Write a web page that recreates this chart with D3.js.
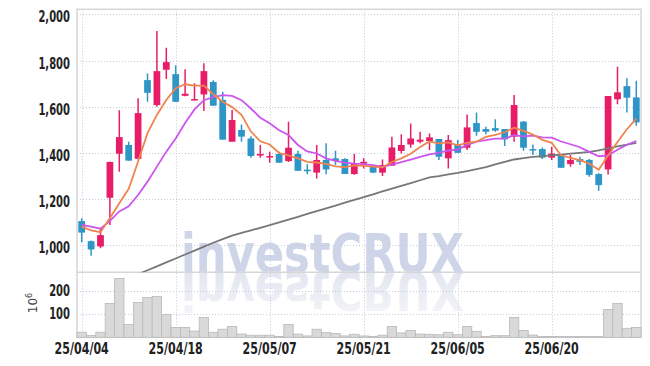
<!DOCTYPE html>
<html>
<head>
<meta charset="utf-8">
<script src="https://cdn.jsdelivr.net/npm/d3@7"></script>
<style>
  html, body { margin: 0; padding: 0; background: #fff; }
  svg { display: block; }
  .tick-label { font-family: "DejaVu Sans Condensed", "DejaVu Sans", sans-serif; font-weight: bold; font-size: 15px; fill: #222; }
</style>
</head>
<body>
<div id="chart"></div>
<script>
const width = 650;
const height = 366;

// trading days
const dates = [
  "25/04/04","25/04/07","25/04/08","25/04/09","25/04/10","25/04/11","25/04/14","25/04/15","25/04/16","25/04/17",
  "25/04/18","25/04/21","25/04/22","25/04/23","25/04/24","25/04/25","25/04/28","25/04/29","25/04/30","25/05/02",
  "25/05/07","25/05/08","25/05/09","25/05/12","25/05/13","25/05/14","25/05/15","25/05/16","25/05/19","25/05/20",
  "25/05/21","25/05/22","25/05/23","25/05/26","25/05/27","25/05/28","25/05/29","25/05/30","25/06/02","25/06/04",
  "25/06/05","25/06/09","25/06/10","25/06/11","25/06/12","25/06/13","25/06/16","25/06/17","25/06/18","25/06/19",
  "25/06/20","25/06/23","25/06/24","25/06/25","25/06/26","25/06/27","25/06/30","25/07/01","25/07/02","25/07/03"
];

const opens = [1104,1017,994,1205,1396,1434,1374,1715,1607,1760, 1741,1647,1630,1653,1707,1629,1448,1499,1462,1388,
  1380,1395,1364,1395,1327,1314,1369,1376,1373,1308, 1353,1340,1314,1344,1408,1436,1448,1451,1460,1376,
  1436,1422,1529,1503,1507,1503,1470,1535,1416,1416, 1379,1393,1351,1373,1369,1308,1328,1632,1689,1640];
const highs = [1116,1020,1075,1362,1584,1448,1636,1744,1928,1855, 1780,1762,1701,1788,1715,1665,1585,1523,1472,1434,
  1405,1405,1535,1409,1350,1434,1441,1409,1376,1395, 1376,1340,1371,1470,1480,1527,1491,1484,1460,1477,
  1455,1566,1575,1513,1545,1503,1650,1538,1436,1423, 1426,1395,1390,1383,1373,1311,1646,1773,1723,1712];
const lows = [1012,954,986,1087,1318,1366,1372,1621,1600,1720, 1621,1645,1628,1581,1604,1457,1448,1448,1379,1379,
  1357,1357,1360,1322,1307,1289,1307,1347,1308,1305, 1332,1311,1299,1344,1397,1422,1441,1412,1369,1332,
  1400,1412,1474,1480,1491,1429,1448,1409,1390,1373, 1369,1335,1340,1347,1296,1236,1306,1610,1575,1517];
const closes = [1054,981,1043,1360,1468,1366,1572,1660,1754,1793, 1621,1656,1633,1754,1604,1457,1542,1470,1386,1395,
  1386,1357,1422,1322,1320,1369,1328,1364,1308,1354, 1361,1314,1347,1423,1434,1462,1457,1467,1383,1455,
  1400,1510,1491,1491,1496,1458,1607,1422,1412,1379, 1397,1335,1369,1361,1304,1260,1646,1662,1639,1532];

// volume, in millions
const volumes = [22,8,22,147,255,56,151,173,177,99, 43,43,27,86,22,35,47,14,9,9,
  9,4,56,14,6,35,20,17,6,13, 6,4,9,47,19,30,14,13,11,22,
  11,47,26,4,7,7,86,30,10,4, 4,3,3,3,3,3,121,147,39,43];

// moving averages
const ma5 = [1080,1064,1056,1117,1181,1244,1362,1485,1564,1629, 1680,1697,1691,1691,1654,1621,1598,1565,1492,1450,
  1436,1399,1389,1376,1361,1358,1352,1341,1338,1345, 1343,1340,1337,1360,1376,1396,1425,1449,1441,1445,
  1432,1443,1448,1469,1478,1489,1509,1495,1479,1456, 1443,1389,1378,1368,1353,1326,1388,1447,1502,1548];
const ma10 = [1088,1080,1071,1105,1146,1168,1217,1275,1340,1405, 1462,1529,1588,1628,1641,1650,1647,1628,1592,1552,
  1528,1498,1477,1434,1406,1397,1376,1365,1357,1353, 1351,1346,1339,1349,1360,1370,1382,1393,1400,1410,
  1414,1434,1448,1455,1461,1461,1476,1471,1474,1467, 1466,1449,1437,1424,1404,1385,1389,1413,1435,1451];
const ma60 = [775,792,808,825,841,858,874,891,908,925, 942,959,976,993,1010,1026,1041,1053,1064,1075,
  1086,1098,1110,1122,1135,1147,1159,1171,1184,1196, 1208,1220,1233,1245,1257,1269,1281,1293,1299,1306,
  1313,1321,1329,1338,1350,1361,1371,1377,1382,1386, 1389,1392,1396,1400,1404,1410,1419,1428,1435,1443];

const priceTicks = [1000, 1200, 1400, 1600, 1800, 2000];
const volumeTicks = [100, 200];
const dateTicks = ["25/04/04","25/04/18","25/05/07","25/05/21","25/06/05","25/06/20"];

const plotLeft = 77, plotRight = 641, plotTop = 9.3, mainBottom = 272.3, volBottom = 337.3;

const svg = d3.select("#chart")
  .append("svg")
  .attr("width", width)
  .attr("height", height);

const x = d3.scaleBand()
  .domain(d3.range(dates.length))
  .range([plotLeft, plotRight])
  .padding(0);
const bw = x.bandwidth();
const cx = i => x(i) + bw / 2;

const y = d3.scaleLinear().domain([882, 2022]).range([mainBottom, plotTop]);
const yv = d3.scaleLinear().domain([0, 282]).range([volBottom, mainBottom]);

const defs = svg.append("defs");
defs.append("clipPath").attr("id", "main-clip")
  .append("rect").attr("x", plotLeft).attr("y", plotTop).attr("width", plotRight - plotLeft).attr("height", mainBottom - plotTop);
const grad = defs.append("linearGradient").attr("id", "refl")
  .attr("x1", 0).attr("y1", 0).attr("x2", 0).attr("y2", 1);
grad.append("stop").attr("offset", "0%").attr("stop-color", "#f6f7fa");
grad.append("stop").attr("offset", "100%").attr("stop-color", "#dde1ed");

// watermark and its reflection
const mark = (g, yPos) => g.append("text")
  .attr("x", 181).attr("y", yPos)
  .attr("textLength", 283).attr("lengthAdjust", "spacingAndGlyphs")
  .style("font-family", "DejaVu Sans, sans-serif")
  .style("font-weight", "bold")
  .style("font-size", "54px")
  .text("investCRUX");
mark(svg, mainBottom).style("fill", "#cfd5e9");
mark(svg.append("g").attr("transform", "scale(1,-1)"), -mainBottom).style("fill", "url(#refl)");

// grid
const grid = svg.append("g")
  .attr("stroke", "#c6cadc")
  .attr("stroke-width", 1)
  .attr("stroke-dasharray", "1,2");
grid.selectAll(".hg").data(priceTicks).enter().append("line")
  .attr("x1", plotLeft).attr("x2", plotRight)
  .attr("y1", d => Math.round(y(d)) + 0.5).attr("y2", d => Math.round(y(d)) + 0.5);
grid.selectAll(".vg").data(volumeTicks).enter().append("line")
  .attr("x1", plotLeft).attr("x2", plotRight)
  .attr("y1", d => Math.round(yv(d)) + 0.5).attr("y2", d => Math.round(yv(d)) + 0.5);
grid.selectAll(".xg").data(dateTicks).enter().append("line")
  .attr("x1", d => Math.round(cx(dates.indexOf(d))) + 0.5)
  .attr("x2", d => Math.round(cx(dates.indexOf(d))) + 0.5)
  .attr("y1", plotTop).attr("y2", volBottom);

// frame
svg.append("rect")
  .attr("x", plotLeft).attr("y", plotTop)
  .attr("width", plotRight - plotLeft).attr("height", volBottom - plotTop)
  .attr("fill", "none").attr("stroke", "#d6d6d6").attr("stroke-width", 1.5);
svg.append("line")
  .attr("x1", plotLeft).attr("x2", plotRight)
  .attr("y1", mainBottom).attr("y2", mainBottom)
  .attr("stroke", "#d6d6d6").attr("stroke-width", 1.5);

// volume bars
svg.append("g").selectAll("rect")
  .data(volumes)
  .enter()
  .append("rect")
  .attr("x", (d, i) => x(i))
  .attr("width", bw)
  .attr("y", d => yv(d))
  .attr("height", d => yv(0) - yv(d))
  .attr("fill", "#d9d9d9")
  .attr("stroke", "#b9b9b9")
  .attr("stroke-width", 0.8);

// candles
const plot = svg.append("g").attr("clip-path", "url(#main-clip)");
const upColor = "#e81d67", downColor = "#2f95c7";
const candles = plot.append("g").selectAll("g")
  .data(d3.range(dates.length))
  .enter()
  .append("g")
  .attr("fill", i => closes[i] >= opens[i] ? upColor : downColor)
  .attr("stroke", i => closes[i] >= opens[i] ? upColor : downColor);
candles.append("line")
  .attr("x1", cx).attr("x2", cx)
  .attr("y1", i => y(highs[i])).attr("y2", i => y(lows[i]))
  .attr("stroke-width", 1.5);
candles.append("rect")
  .attr("x", i => cx(i) - bw * 0.36)
  .attr("width", bw * 0.72)
  .attr("y", i => y(Math.max(opens[i], closes[i])))
  .attr("height", i => Math.max(1.5, Math.abs(y(opens[i]) - y(closes[i]))))
  .attr("stroke", "none");

// moving average lines
const line = arr => d3.line().x((d, i) => cx(i)).y(d => y(d))(arr);
plot.append("path").attr("d", line(ma60)).attr("fill", "none").attr("stroke", "#777").attr("stroke-width", 1.8);
plot.append("path").attr("d", line(ma10)).attr("fill", "none").attr("stroke", "#cc55ee").attr("stroke-width", 1.8);
plot.append("path").attr("d", line(ma5)).attr("fill", "none").attr("stroke", "#ef8450").attr("stroke-width", 1.8);

// axis labels (narrowed to match the condensed face)
svg.append("g").selectAll("text")
  .data(priceTicks)
  .enter()
  .append("text")
  .attr("class", "tick-label")
  .attr("transform", d => `translate(70,${y(d) + 8}) scale(0.74,1)`)
  .attr("text-anchor", "end")
  .text(d => d3.format(",")(d));
svg.append("g").selectAll("text")
  .data(volumeTicks)
  .enter()
  .append("text")
  .attr("class", "tick-label")
  .attr("transform", d => `translate(70,${yv(d) + 5}) scale(0.74,1)`)
  .attr("text-anchor", "end")
  .text(d => d);
svg.append("g").selectAll("text")
  .data(dateTicks)
  .enter()
  .append("text")
  .attr("class", "tick-label")
  .attr("transform", d => `translate(${cx(dates.indexOf(d))},354) scale(0.82,1)`)
  .attr("text-anchor", "middle")
  .text(d => d);

// volume unit
const unit = svg.append("text")
  .attr("transform", "translate(37,303) rotate(-90)")
  .attr("text-anchor", "middle")
  .style("font-family", "DejaVu Sans, sans-serif")
  .style("font-size", "12px")
  .style("fill", "#444");
unit.append("tspan").text("10");
unit.append("tspan").attr("dy", -5).style("font-size", "8px").text("6");
</script>
</body>
</html>
